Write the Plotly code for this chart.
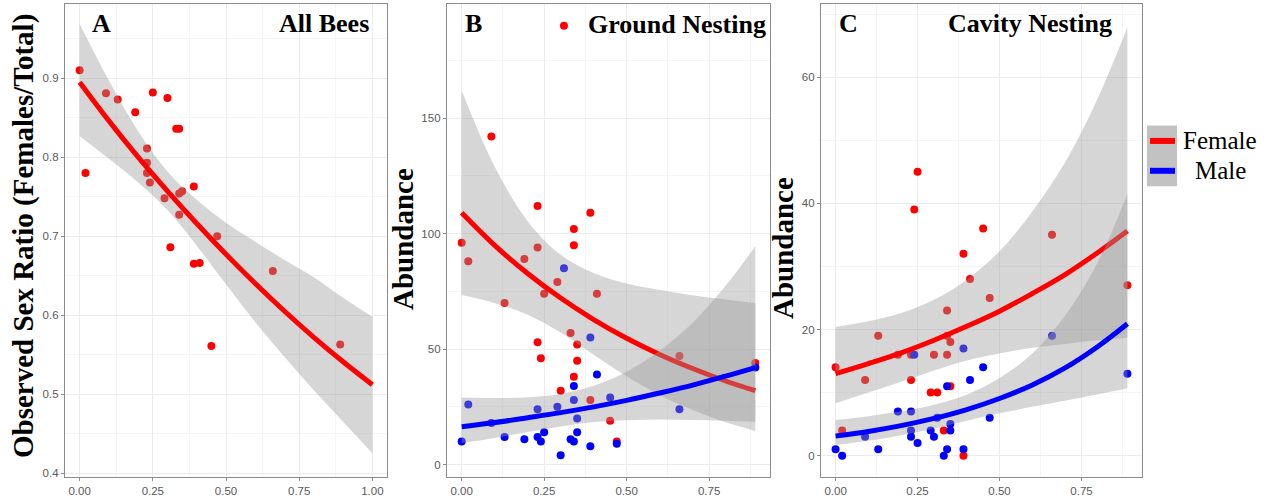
import plotly.graph_objects as go

# ---------------- data ----------------
# Panel A: all bees, observed sex ratio
a_x = [0.00, 0.02, 0.09, 0.13, 0.19, 0.25, 0.30, 0.33, 0.34, 0.23, 0.23, 0.23, 0.24,
       0.29, 0.34, 0.35, 0.39, 0.34, 0.31, 0.39, 0.41, 0.47, 0.45, 0.66, 0.89]
a_ratio = [0.910, 0.780, 0.881, 0.873, 0.857, 0.882, 0.875, 0.836, 0.836, 0.811, 0.793, 0.780, 0.768,
           0.748, 0.754, 0.757, 0.763, 0.727, 0.686, 0.665, 0.666, 0.700, 0.561, 0.656, 0.563]
a_grid = [0.0, 0.1, 0.2, 0.3, 0.4, 0.5, 0.6, 0.7, 0.8, 0.9, 1.0]
a_fit = [0.895, 0.846, 0.800, 0.757, 0.716, 0.677, 0.640, 0.605, 0.572, 0.541, 0.512]
a_upper = [0.969, 0.897, 0.833, 0.782, 0.746, 0.717, 0.693, 0.670, 0.648, 0.622, 0.598]
a_lower = [0.827, 0.798, 0.768, 0.733, 0.688, 0.639, 0.591, 0.547, 0.505, 0.465, 0.425]

# Panel B: ground nesting abundance
b_f_x = [0.00, 0.02, 0.09, 0.13, 0.19, 0.23, 0.23, 0.23, 0.24, 0.25, 0.29, 0.30, 0.33,
         0.34, 0.34, 0.34, 0.35, 0.35, 0.39, 0.39, 0.41, 0.45, 0.47, 0.66, 0.89]
b_f_y = [96, 88, 142, 70, 89, 112, 94, 53, 46, 74, 79, 32, 57,
         102, 95, 38, 52, 45, 109, 28, 74, 19, 10, 47, 44]
b_m_x = [0.00, 0.02, 0.09, 0.13, 0.19, 0.23, 0.23, 0.24, 0.25, 0.29, 0.30, 0.31, 0.33,
         0.34, 0.34, 0.34, 0.35, 0.35, 0.39, 0.39, 0.41, 0.45, 0.47, 0.66, 0.89]
b_m_y = [10, 26, 18, 12, 11, 24, 12, 10, 14, 25, 4, 85, 11,
         34, 28, 10, 20, 14, 55, 8, 39, 29, 9, 24, 42]
b_key_x = [0.31]
b_key_y = [190]
bc_grid = [0.0, 0.1, 0.2, 0.3, 0.4, 0.5, 0.6, 0.7, 0.8, 0.89]
b_f_fit = [109, 94.9, 82.7, 72.1, 62.8, 54.7, 47.7, 41.6, 36.2, 32.0]
b_f_up = [162, 129, 105.4, 90.8, 82.9, 78.4, 75.6, 73.3, 71.5, 70.0]
b_f_lo = [73.4, 69.9, 64.9, 57.2, 47.6, 38.2, 30.1, 23.6, 18.3, 14.6]
b_m_fit = [16.4, 18.2, 20.3, 22.5, 25.0, 27.8, 31.0, 34.4, 38.3, 42.0]
b_m_up = [29.0, 28.8, 29.2, 30.6, 34.1, 40.2, 49.3, 61.4, 77.4, 94.5]
b_m_lo = [9.3, 11.5, 14.1, 16.5, 18.4, 19.2, 19.5, 19.3, 19.0, 18.5]

# Panel C: cavity nesting abundance
c_f_x = [0.00, 0.02, 0.09, 0.13, 0.19, 0.23, 0.23, 0.24, 0.25, 0.29, 0.30, 0.31, 0.33,
         0.34, 0.34, 0.34, 0.35, 0.35, 0.39, 0.39, 0.41, 0.45, 0.47, 0.66, 0.89]
c_f_y = [14, 4, 12, 19, 16, 16, 12, 39, 45, 10, 16, 10, 4,
         23, 16, 19, 18, 11, 32, 0, 28, 36, 25, 35, 27]
c_m_x = [0.00, 0.02, 0.09, 0.13, 0.19, 0.23, 0.23, 0.23, 0.24, 0.25, 0.29, 0.30, 0.31,
         0.33, 0.34, 0.34, 0.35, 0.35, 0.39, 0.39, 0.41, 0.45, 0.47, 0.66, 0.89]
c_m_y = [1, 0, 3, 1, 7, 7, 4, 3, 16, 2, 4, 3, 6,
         0, 11, 1, 5, 4, 17, 1, 12, 14, 6, 19, 13]
c_f_fit = [13.0, 14.6, 16.3, 18.3, 20.5, 22.9, 25.7, 28.7, 32.2, 35.6]
c_f_up = [20.4, 21.3, 22.6, 24.7, 27.9, 32.4, 38.7, 46.5, 56.7, 67.9]
c_f_lo = [8.3, 10.0, 11.7, 13.5, 15.1, 16.2, 17.1, 17.7, 18.3, 18.7]
c_m_fit = [3.1, 3.84, 4.76, 5.90, 7.31, 9.06, 11.2, 13.9, 17.3, 20.9]
c_m_up = [5.65, 6.26, 7.03, 8.08, 9.67, 12.3, 16.2, 22.2, 30.7, 41.5]
c_m_lo = [1.70, 2.35, 3.22, 4.31, 5.53, 6.70, 7.73, 8.72, 9.74, 10.7]

legend_labels = ["Female", "Male"]

# ---------------- style ----------------
RED = "#FF0000"
BLUE = "#0000FF"
RIBBON = "rgba(153,153,153,0.4)"
SERIF = "Liberation Serif, Times New Roman, serif"
SANS = "Liberation Sans, Arial, sans-serif"
W, H = 1267, 500

fig = go.Figure()


def pts(x, y, color, ax):
    fig.add_trace(go.Scatter(x=x, y=y, mode="markers", xaxis="x" + ax, yaxis="y" + ax,
                             marker=dict(color=color, size=8, line=dict(width=0)),
                             showlegend=False, hoverinfo="skip"))


def smooth(grid, fit, lo, up, color, ax):
    fig.add_trace(go.Scatter(x=grid, y=lo, mode="lines", xaxis="x" + ax, yaxis="y" + ax,
                             line=dict(width=0, shape="spline", color=RIBBON),
                             showlegend=False, hoverinfo="skip"))
    fig.add_trace(go.Scatter(x=grid, y=up, mode="lines", xaxis="x" + ax, yaxis="y" + ax,
                             line=dict(width=0, shape="spline", color=RIBBON),
                             fill="tonexty", fillcolor=RIBBON,
                             showlegend=False, hoverinfo="skip"))
    fig.add_trace(go.Scatter(x=grid, y=fit, mode="lines", xaxis="x" + ax, yaxis="y" + ax,
                             line=dict(width=5, shape="spline", color=color),
                             showlegend=False, hoverinfo="skip"))


# Panel A
pts(a_x, a_ratio, RED, "")
smooth(a_grid, a_fit, a_lower, a_upper, RED, "")
# Panel B
pts(b_f_x, b_f_y, RED, "2")
pts(b_m_x, b_m_y, BLUE, "2")
pts(b_key_x, b_key_y, RED, "2")
smooth(bc_grid, b_f_fit, b_f_lo, b_f_up, RED, "2")
smooth(bc_grid, b_m_fit, b_m_lo, b_m_up, BLUE, "2")
# Panel C
pts(c_f_x, c_f_y, RED, "3")
pts(c_m_x, c_m_y, BLUE, "3")
smooth(bc_grid, c_f_fit, c_f_lo, c_f_up, RED, "3")
smooth(bc_grid, c_m_fit, c_m_lo, c_m_up, BLUE, "3")


def axis(domain, rng, dtick, minor, fmt, anchor):
    return dict(domain=domain, range=rng, dtick=dtick, tick0=0, tickformat=fmt,
                anchor=anchor, showline=True, mirror=True, linecolor="#8c8c8c", linewidth=1.3,
                ticks="outside", ticklen=3, tickcolor="#8c8c8c", tickwidth=1,
                showgrid=True, gridcolor="#EBEBEB", gridwidth=1.1, zeroline=False,
                minor=dict(dtick=minor, tick0=0, showgrid=True, gridcolor="#F5F5F5", gridwidth=0.6),
                tickfont=dict(family=SANS, size=11.5, color="#595959"))


ydom = [1 - 479 / H, 1 - 4 / H]
fig.update_layout(
    width=W, height=H, margin=dict(l=0, r=0, t=0, b=0), autosize=False,
    plot_bgcolor="white", paper_bgcolor="white",
    xaxis=axis([65 / W, 387 / W], [-0.05, 1.05], 0.25, 0.125, ".2f", "y"),
    yaxis=axis(ydom, [0.395, 0.994], 0.1, 0.05, ".1f", "x"),
    xaxis2=axis([447 / W, 770 / W], [-0.0445, 0.9345], 0.25, 0.125, ".2f", "y2"),
    yaxis2=axis(ydom, [-5.4, 199.4], 50, 25, "d", "x2"),
    xaxis3=axis([821 / W, 1142 / W], [-0.0445, 0.9345], 0.25, 0.125, ".2f", "y3"),
    yaxis3=axis(ydom, [-3.4, 71.6], 20, 10, "d", "x3"),
)


def ann(text, x, y, size, bold=True, xanchor="center", angle=0):
    fig.add_annotation(text=("<b>%s</b>" % text) if bold else text,
                       x=x / W, y=1 - y / H, xref="paper", yref="paper",
                       xanchor=xanchor, yanchor="middle", showarrow=False, textangle=angle,
                       font=dict(family=SERIF, size=size, color="black"))


# axis titles
ann("Observed Sex Ratio (Females/Total)", 23, 237, 29, angle=-90)
ann("Abundance", 403, 240, 29, angle=-90)
ann("Abundance", 783, 249, 29, angle=-90)
# panel labels
ann("A", 101, 24, 26)
ann("All Bees", 371, 24, 26, xanchor="right")
ann("B", 473, 24, 26)
ann("Ground Nesting", 586, 25, 26, xanchor="left")
ann("C", 848, 24, 26)
ann("Cavity Nesting", 1030, 24, 26)

# legend (Female / Male)
fig.add_shape(type="rect", xref="paper", yref="paper",
              x0=1147 / W, x1=1177 / W, y0=1 - 187 / H, y1=1 - 126 / H,
              fillcolor="#C2C2C2", line=dict(width=0))
for lbl, col, yy in zip(legend_labels, [RED, BLUE], [141.5, 171.5]):
    fig.add_shape(type="line", xref="paper", yref="paper",
                  x0=1150 / W, x1=1175 / W, y0=1 - yy / H, y1=1 - yy / H,
                  line=dict(color=col, width=6))
    ann(lbl, 1220, yy, 25, bold=False)

fig.write_html("out.html")
